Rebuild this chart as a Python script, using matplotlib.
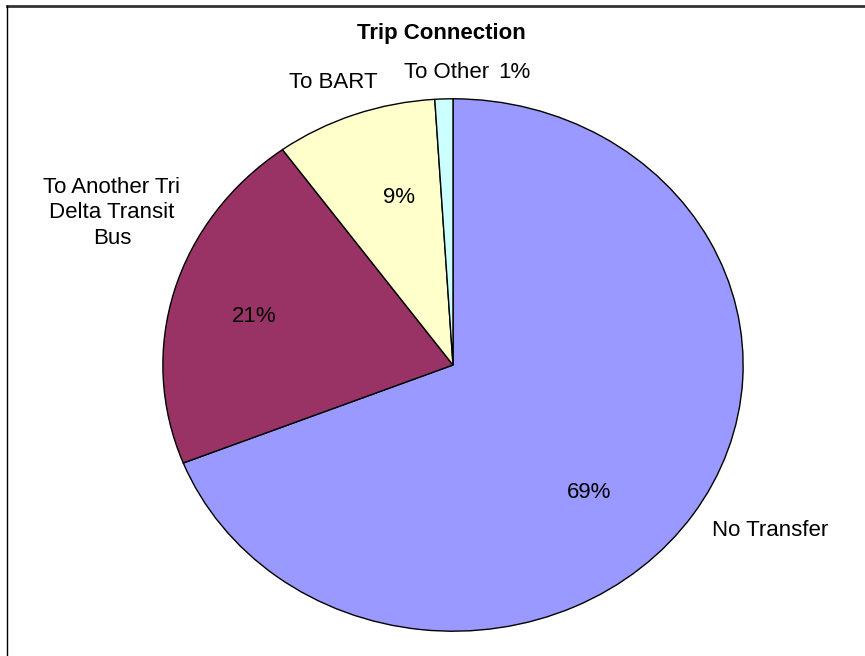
import matplotlib
matplotlib.use("Agg")
import matplotlib.pyplot as plt
from matplotlib.lines import Line2D

W, H = 865, 656

categories = ["No Transfer", "To Another Tri\nDelta Transit\nBus", "To BART", "To Other"]
shares = [69, 21, 9, 1]
colors = ["#9999FF", "#993366", "#FFFFCC", "#CCFFFF"]

# label anchors in pixels (x, y from top)
name_pos = [(770, 531), (112, 213), (333, 82), (447, 73)]
pct_pos = [(589, 493), (254, 317), (399, 198), (514, 73)]

plt.rcParams["font.family"] = ["Liberation Sans", "DejaVu Sans"]

fig = plt.figure(figsize=(W / 100, H / 100), dpi=100, facecolor="white")


def fx(x):
    return x / W


def fy(y):
    return 1 - y / H


# elliptical pie: the axes box is the bounding box of the ellipse
left, right, top, bottom = 162, 744, 98, 632
ax = fig.add_axes([fx(left), fy(bottom), (right - left) / W, (bottom - top) / H])
ax.pie(shares, colors=colors, startangle=90, counterclock=False, radius=1,
       wedgeprops={"edgecolor": "black", "linewidth": 1.0})
ax.set_aspect("auto")
ax.set_xlim(-1.003, 1.003)
ax.set_ylim(-1.003, 1.003)
ax.axis("off")

for name, v, (nx, ny), (px, py) in zip(categories, shares, name_pos, pct_pos):
    fig.text(fx(nx), fy(ny), name, ha="center", va="center", fontsize=16,
             linespacing=1.3)
    fig.text(fx(px), fy(py), f"{v}%", ha="center", va="center", fontsize=16)

fig.text(fx(441), fy(33), "Trip Connection", ha="center", va="center",
         fontsize=16, fontweight="bold")

# chart area border (top and left edges)
fig.add_artist(Line2D([fx(7), 1], [fy(6), fy(6)], color="#333333", lw=2.0,
                      transform=fig.transFigure))
fig.add_artist(Line2D([fx(7), fx(7)], [fy(6), 0], color="black", lw=1.0,
                      transform=fig.transFigure))

fig.savefig("out.png", dpi=100, facecolor="white")
